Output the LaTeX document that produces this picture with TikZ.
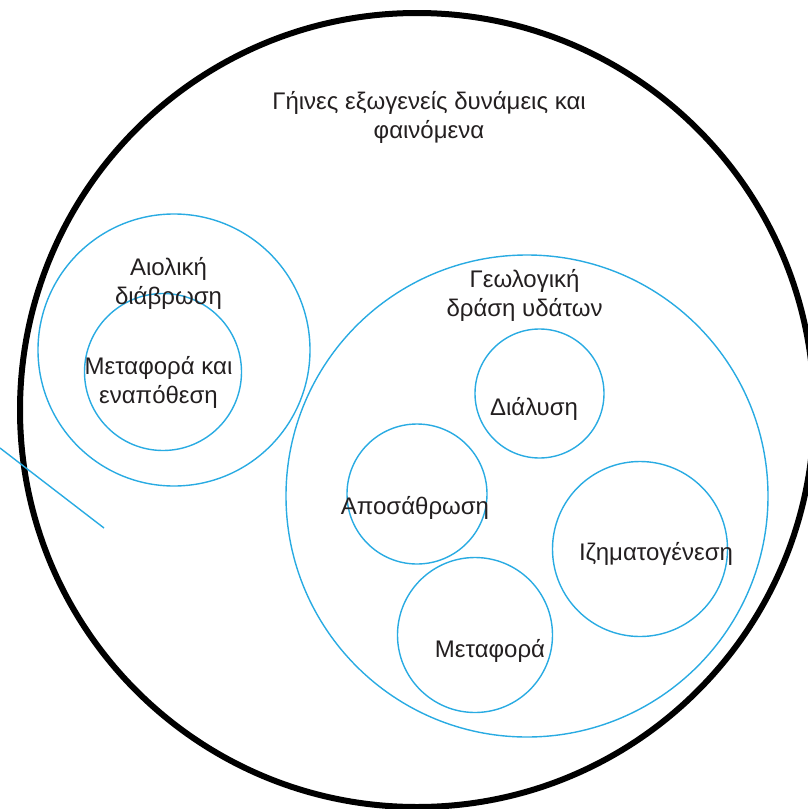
\documentclass[tikz,border=0pt]{standalone}
\usepackage{fontspec}
\setmainfont{Liberation Sans}
\usepackage{tikz}
\definecolor{skyblue}{HTML}{29ABE2}
\definecolor{inkgray}{HTML}{231F20}

\begin{document}
\begin{tikzpicture}[x=1pt,y=-1pt]
        \tikzset{ring/.style = {shape=circle,draw=skyblue,line width=1.4pt,inner sep=0pt,minimum size=#1}}
        \tikzset{caption/.style = {text=inkgray,font=\fontsize{24}{29}\selectfont,align=center}}
        \useasboundingbox (0,0) rectangle (807,809);

        % circles
        \node[circle,draw=black,line width=6pt,inner sep=0pt,minimum size=794pt] (earth) at (417,410) {};
        \node[ring=272pt] (wind) at (174,350) {};
        \node[ring=157pt] (windcarry) at (163,372) {};
        \node[ring=482pt] (water) at (527,496) {};
        \foreach \n/\x/\y/\d in {dissolve/539.5/393.5/129, weather/417/494/140,
                                  sediment/640/549/175, carry/475/635/155}
            \node[ring=\d pt] (\n) at (\x,\y) {};

        % labels
        \node[caption] (earthtxt) at (429,117) {Γήινες εξωγενείς δυνάμεις και\\φαινόμενα};
        \node[caption] (windtxt) at (168.5,283) {Αιολική\\διάβρωση};
        \node[caption] (windcarrytxt) at (158.5,382) {Μεταφορά και\\εναπόθεση};
        \node[caption] (watertxt) at (524.5,295) {Γεωλογική\\δράση υδάτων};
        \node[caption,anchor=base] (dissolvetxt) at (534,415) {Διάλυση};
        \node[caption,anchor=base] (weathertxt) at (415,514) {Αποσάθρωση};
        \node[caption,anchor=base] (sedimenttxt) at (656,560) {Ιζηματογένεση};
        \node[caption,anchor=base] (carrytxt) at (490,657) {Μεταφορά};

        % stray line
        \coordinate (s1) at (0,448);
        \coordinate (s2) at (104,528);
        \draw[skyblue,line width=1.4pt] (s1) -- (s2);
\end{tikzpicture}
\end{document}
